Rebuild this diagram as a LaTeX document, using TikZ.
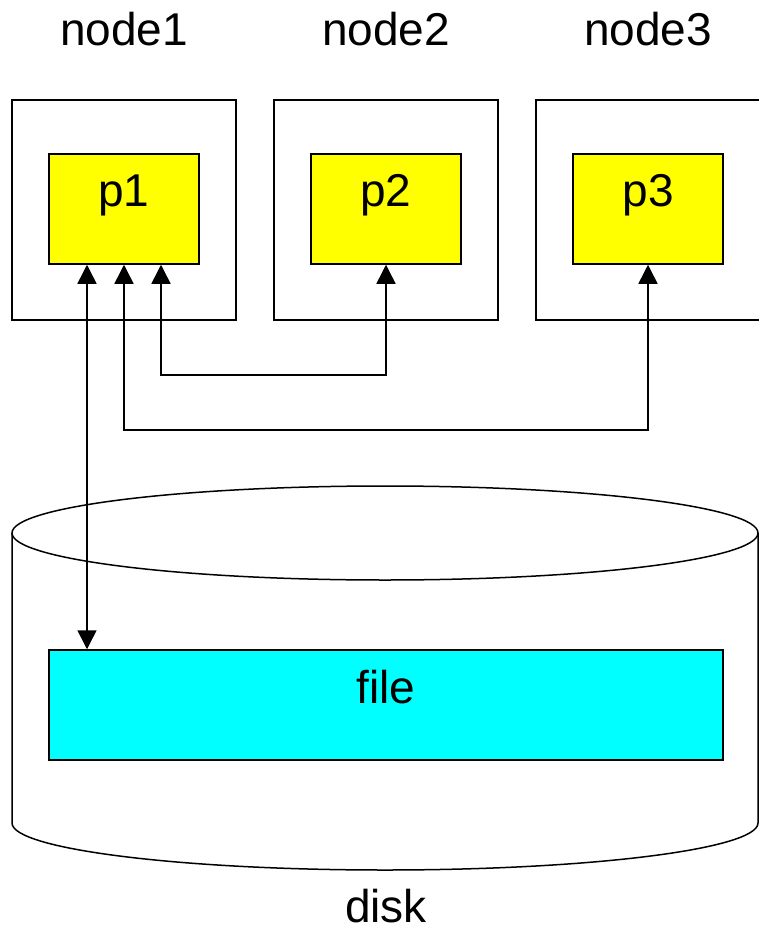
\documentclass[tikz,border=0pt]{standalone}
\usepackage{fontspec}
\setmainfont{Liberation Sans}
\usepackage{tikz}
\usetikzlibrary{arrows.meta}
\definecolor{procyellow}{HTML}{FFFF00}
\definecolor{filecyan}{HTML}{00FFFF}

\tikzset{
    hostbox/.style={draw, line width=1.5pt, minimum width=224pt, minimum height=220pt, inner sep=0pt},
    procbox/.style={draw, line width=1.5pt, fill=procyellow, minimum width=150pt, minimum height=110pt,
        inner sep=0pt, text height=33pt, text depth=39pt},
    filebox/.style={draw, line width=1.5pt, fill=filecyan, minimum width=674pt, minimum height=110pt,
        inner sep=0pt, text height=33pt, text depth=37pt},
    lab/.style={anchor=base, inner sep=0pt},
    link/.style={line width=1.5pt, {Triangle[length=19pt,width=19pt]}-{Triangle[length=19pt,width=19pt]}},
}

\begin{document}
\begin{tikzpicture}[x=1pt, y=-1pt, font=\fontsize{46}{50}\selectfont]
            \useasboundingbox (0, 0) rectangle (758, 931);

            % hosts
            \node (n1) at (124, 210) [hostbox] {};
            \node (n2) at (386, 210) [hostbox] {};
            \node (n3) at (648, 210) [hostbox] {};

            \node (n1lab) at (124, 46) [lab] {node1};
            \node (n2lab) at (386, 46) [lab] {node2};
            \node (n3lab) at (648, 46) [lab] {node3};

            \node (p1) at (124, 209) [procbox] {p1};
            \node (p2) at (386, 209) [procbox] {p2};
            \node (p3) at (648, 209) [procbox] {p3};

            % disk
            \draw[line width=1.5pt] (385, 533) ellipse [x radius=373, y radius=47];
            \draw[line width=1.5pt] (12, 533) -- (12, 823)
                arc [start angle=180, end angle=0, x radius=373, y radius=47]
                -- (758, 533);
            \node (disklab) at (386, 922) [lab] {disk};

            \node (file) at (386, 705) [filebox] {file};

            % links between processes
            \coordinate (j2) at (386, 375);
            \coordinate (j3) at (648, 430);
            \draw[link] ([xshift=37pt]p1.south) |- (j2) -- (p2.south);
            \draw[link] (p1.south) |- (j3) -- (p3.south);
            \draw[link] ([xshift=-37pt]p1.south) -- ([xshift=-37pt]p1.south |- file.north);
        \end{tikzpicture}
\end{document}
